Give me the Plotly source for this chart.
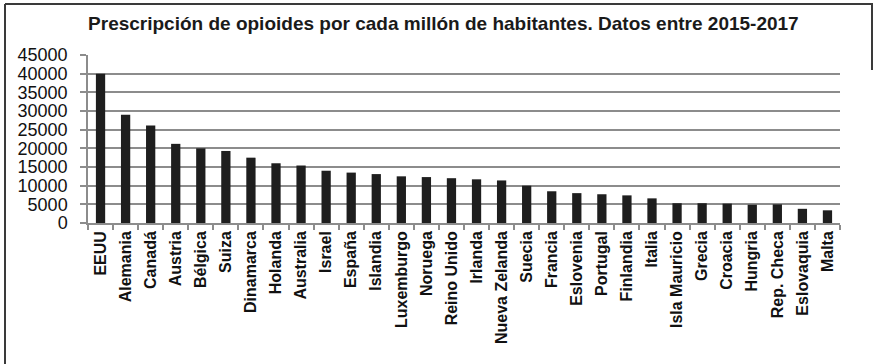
import plotly.graph_objects as go

# Opioid prescriptions per million inhabitants, 2015-2017
paises = [
    "EEUU", "Alemania", "Canadá", "Austria", "Bélgica", "Suiza", "Dinamarca",
    "Holanda", "Australia", "Israel", "España", "Islandia", "Luxemburgo",
    "Noruega", "Reino Unido", "Irlanda", "Nueva Zelanda", "Suecia", "Francia",
    "Eslovenia", "Portugal", "Finlandia", "Italia", "Isla Mauricio", "Grecia",
    "Croacia", "Hungria", "Rep. Checa", "Eslovaquia", "Malta",
]
prescripciones = [
    40000, 29000, 26100, 21200, 20000, 19300, 17500,
    16000, 15400, 14000, 13500, 13100, 12500,
    12300, 12000, 11700, 11400, 10000, 8500,
    8000, 7700, 7400, 6600, 5300, 5300,
    5200, 4900, 5000, 3800, 3400,
]
y_ticks = [0, 5000, 10000, 15000, 20000, 25000, 30000, 35000, 40000, 45000]

W, H = 878, 364
L, R, T, B = 88, 38, 55, 141
FONT = "Liberation Sans, Arial, sans-serif"
GRID = "#8c8c8c"


def px_x(x):
    return (x - L) / (W - L - R)


def px_y(y):
    return (H - B - y) / (H - T - B)


fig = go.Figure(
    go.Bar(
        x=paises,
        y=prescripciones,
        marker=dict(color="#1e1e1e", line=dict(width=0)),
        hoverinfo="skip",
    )
)

# frame around the figure
frame = dict(type="line", xref="paper", yref="paper",
             line=dict(color="#3a3a3a", width=2))
fig.add_shape(**frame, x0=px_x(5), x1=px_x(873), y0=px_y(4), y1=px_y(4))
fig.add_shape(**frame, x0=px_x(5), x1=px_x(5), y0=px_y(4), y1=px_y(364))
fig.add_shape(**frame, x0=px_x(872), x1=px_x(872), y0=px_y(4), y1=px_y(70))

fig.update_layout(
    width=W,
    height=H,
    margin=dict(l=L, r=R, t=T, b=B, pad=0),
    paper_bgcolor="white",
    plot_bgcolor="white",
    bargap=0.63,
    showlegend=False,
    font=dict(family=FONT, color="#1a1a1a"),
    title=dict(
        text="<b>Prescripción de opioides por cada millón de habitantes. Datos entre 2015-2017</b>",
        font=dict(family=FONT, size=19, color="#1a1a1a"),
        xref="container", x=0.505, xanchor="center",
        yref="container", y=1 - 23 / H, yanchor="middle",
    ),
    xaxis=dict(
        type="category",
        tickangle=-90,
        tickfont=dict(family=FONT, size=16, color="#111111", weight="bold"),
        ticks="outside",
        tickson="boundaries",
        ticklen=5,
        tickcolor=GRID,
        tickwidth=1.5,
        showline=True,
        linecolor=GRID,
        linewidth=1.5,
        showgrid=False,
        fixedrange=True,
    ),
    yaxis=dict(
        range=[0, 45000],
        tickvals=y_ticks,
        ticktext=[str(v) for v in y_ticks],
        tickfont=dict(family=FONT, size=18, color="#111111"),
        ticks="outside",
        ticklen=6,
        ticklabelstandoff=9,
        tickcolor=GRID,
        tickwidth=1.5,
        showline=True,
        linecolor=GRID,
        linewidth=1.5,
        showgrid=True,
        gridcolor=GRID,
        gridwidth=1.5,
        zeroline=False,
        fixedrange=True,
    ),
)

fig.write_html("out.html", config={"displayModeBar": False})
